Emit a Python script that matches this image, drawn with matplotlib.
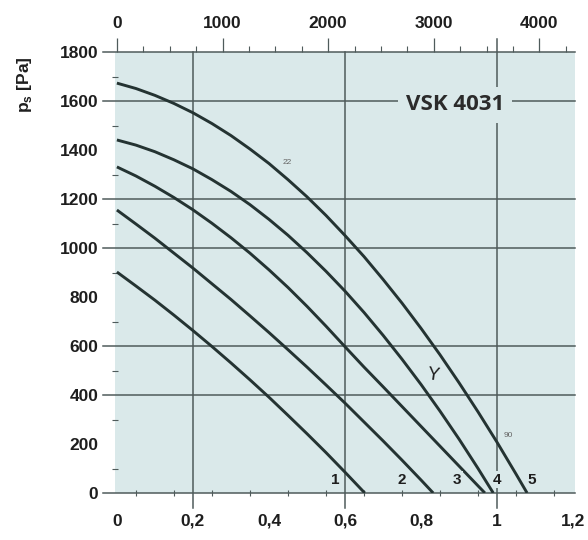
import matplotlib
matplotlib.use("Agg")
import matplotlib.pyplot as plt
import matplotlib.transforms as mtransforms
import numpy as np

# ---- data (flow in m3/s, static pressure in Pa) ----
q1 = [0, 0.05, 0.1, 0.15, 0.2, 0.25, 0.3, 0.35, 0.4, 0.45, 0.5, 0.55, 0.6, 0.652]
p1 = [902, 845, 787, 726, 663, 598, 531, 462, 391, 317, 242, 165, 85, 0]

q2 = [0, 0.05, 0.1, 0.15, 0.2, 0.25, 0.3, 0.35, 0.4, 0.45, 0.5, 0.55, 0.6,
      0.65, 0.7, 0.75, 0.8, 0.832]
p2 = [1155, 1098, 1040, 979, 918, 854, 790, 723, 655, 585, 514, 441, 367,
      290, 213, 134, 53, 0]

q3 = [0, 0.05, 0.1, 0.15, 0.2, 0.25, 0.3, 0.35, 0.4, 0.45, 0.5, 0.55, 0.6,
      0.65, 0.7, 0.75, 0.8, 0.85, 0.9, 0.95, 0.968]
p3 = [1331, 1294, 1252, 1206, 1156, 1101, 1042, 979, 911, 839, 762, 681, 597,
      514, 434, 353, 272, 191, 110, 29, 0]

q4 = [0, 0.05, 0.1, 0.15, 0.2, 0.25, 0.3, 0.35, 0.4, 0.45, 0.5, 0.55, 0.6,
      0.65, 0.7, 0.75, 0.8, 0.85, 0.9, 0.95, 0.99]
p4 = [1441, 1420, 1393, 1360, 1323, 1279, 1231, 1177, 1117, 1052, 981, 905, 824,
      737, 644, 546, 443, 334, 220, 100, 0]

q5 = [0, 0.05, 0.1, 0.15, 0.2, 0.25, 0.3, 0.35, 0.4, 0.45, 0.5, 0.55, 0.6,
      0.65, 0.7, 0.75, 0.8, 0.85, 0.9, 0.95, 1.0, 1.05, 1.079]
p5 = [1673, 1651, 1623, 1590, 1552, 1508, 1459, 1404, 1345, 1279, 1209, 1133, 1051,
      965, 872, 775, 672, 564, 450, 331, 207, 77, 0]

curve_names = ["1", "2", "3", "4", "5"]

x_ticks = [0, 0.2, 0.4, 0.6, 0.8, 1.0, 1.2]
x_ticklabels = ["0", "0,2", "0,4", "0,6", "0,8", "1", "1,2"]
y_ticks = [0, 200, 400, 600, 800, 1000, 1200, 1400, 1600, 1800]
top_ticks = [0, 1000, 2000, 3000, 4000]          # m3/h
x_grid = [0.2, 0.6, 1.0]
y_grid = [0, 400, 600, 1000, 1200, 1600, 1800]

# ---- figure ----
W, H = 588, 540
fig = plt.figure(figsize=(W / 100, H / 100), dpi=100)
fig.patch.set_facecolor("white")
L, R, T, B = 115, 575, 52, 493
ax = fig.add_axes([L / W, (H - B) / H, (R - L) / W, (B - T) / H])
bg = "#dae9ea"
ax.set_facecolor(bg)
ax.set_xlim(-0.005, 1.205)
ax.set_ylim(0, 1800)
for s in ax.spines.values():
    s.set_visible(False)

font = ["Liberation Sans", "DejaVu Sans"]
grid_c = "#4f5b5b"
curve_c = "#243332"
tick_fs = 12.5

# grid lines (extend outside like long ticks)
tb = mtransforms.blended_transform_factory(ax.transAxes, ax.transData)
for yv in y_grid:
    ax.plot([-0.026, 1.0], [yv, yv], transform=tb, color=grid_c, lw=1.1,
            clip_on=False, zorder=2)
tx = mtransforms.blended_transform_factory(ax.transData, ax.transAxes)
for xv in x_grid:
    top = 1.03 if xv == 1.0 else 1.0
    ax.plot([xv, xv], [-0.035, top], transform=tx, color=grid_c, lw=1.1,
            clip_on=False, zorder=2)

# curves
for q, p in [(q1, p1), (q2, p2), (q3, p3), (q4, p4), (q5, p5)]:
    ax.plot(q, p, color=curve_c, lw=2.1, zorder=4, solid_capstyle="butt",
            solid_joinstyle="round")

# ticks
ax.set_xticks(x_ticks)
ax.set_xticklabels(x_ticklabels, fontfamily=font, fontweight="bold",
                   fontsize=tick_fs, color="#1e1e1e")
ax.set_yticks(y_ticks)
ax.set_yticklabels([str(v) for v in y_ticks], fontfamily=font, fontweight="bold",
                   fontsize=tick_fs, color="#1e1e1e")
ax.set_xticks(np.arange(0.05, 1.2, 0.1), minor=True)
ax.set_yticks(np.arange(100, 1800, 100), minor=True)
ax.tick_params(axis="x", which="major", length=0, pad=15)
ax.tick_params(axis="y", which="major", length=0, pad=12)
ax.tick_params(axis="x", which="minor", length=4, width=0.8, color=grid_c,
               direction="inout")
ax.tick_params(axis="y", which="minor", length=4, width=0.8, color=grid_c,
               direction="inout")

# top axis in m3/h
sec = ax.secondary_xaxis("top", functions=(lambda x: x * 3600, lambda x: x / 3600))
sec.set_xticks(top_ticks)
sec.set_xticklabels([str(v) for v in top_ticks], fontfamily=font,
                    fontweight="bold", fontsize=tick_fs, color="#1e1e1e")
sec.set_xticks(np.arange(250, 4300, 250), minor=True)
sec.tick_params(which="major", length=10, width=0.9, color=grid_c, pad=5)
sec.tick_params(which="minor", length=4, width=0.8, color=grid_c)
for s in sec.spines.values():
    s.set_visible(False)

# axis label
fig.text(25 / W, 1 - 85 / H, r"p$_\mathregular{s}$ [Pa]", rotation=90,
         ha="center", va="center", fontsize=12.5, fontweight="bold",
         fontfamily=font, color="#1e1e1e")

# title box
ax.text(455 / W, 1 - 105 / H, "VSK 4031", transform=fig.transFigure,
        ha="center", va="center", fontsize=16, fontweight="bold",
        fontfamily=["Open Sans", "DejaVu Sans"], color="#2b2b2b", zorder=6,
        bbox=dict(boxstyle="square,pad=0.35", fc=bg, ec="none"))

# curve numbers
label_q = [0.574, 0.75, 0.895, 1.0, 1.092]
for name, qx in zip(curve_names, label_q):
    ax.text(qx, 55, name, ha="center", va="center", fontsize=11,
            fontweight="bold", fontfamily=font, color="#1e1e1e", zorder=5,
            bbox=dict(boxstyle="square,pad=0.08", fc=bg, ec="none"))

ax.text(0.832, 482, "Y", ha="center", va="center", fontsize=13,
        fontfamily=font, color="#1e1e1e", zorder=5, rotation=-8)
ax.text(0.448, 1347, "22", ha="center", va="center", fontsize=6,
        fontfamily=font, color="#666666", zorder=5)
ax.text(1.03, 233, "90", ha="center", va="center", fontsize=6,
        fontfamily=font, color="#666666", zorder=5)

fig.savefig("out.png", dpi=100, facecolor="white")
